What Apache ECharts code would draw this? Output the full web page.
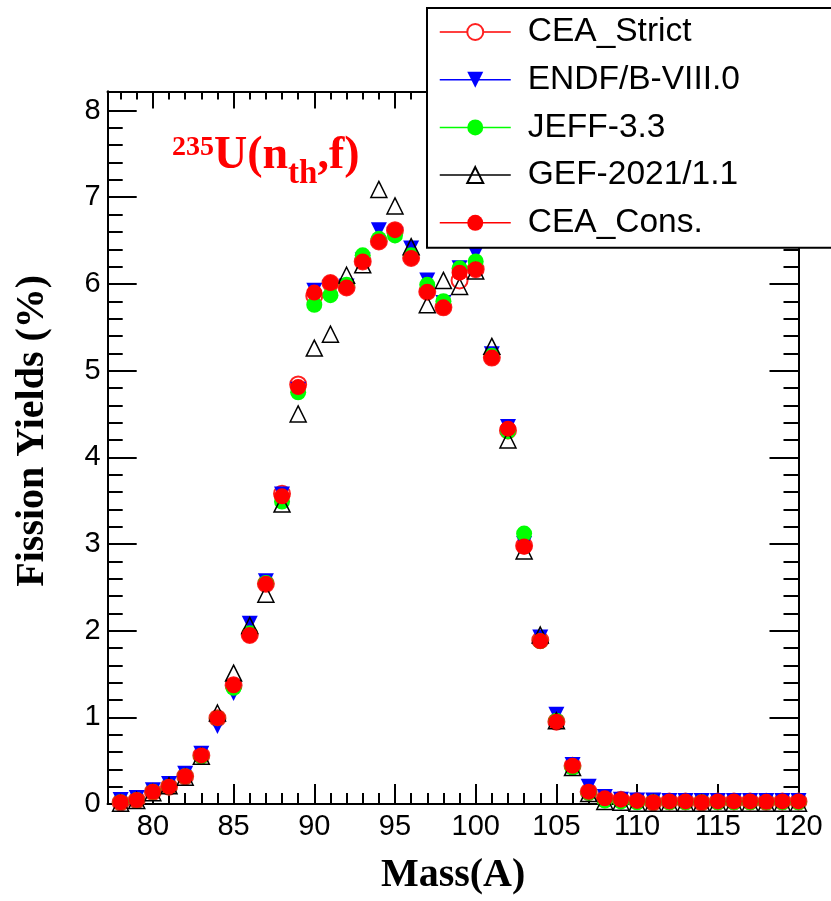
<!DOCTYPE html>
<html><head><meta charset="utf-8">
<script src="https://cdn.jsdelivr.net/npm/echarts@6/dist/echarts.min.js"></script>
<style>html,body{margin:0;padding:0;background:#fff}#c{width:831px;height:901px}</style>
</head><body><div id="c"></div>
<script>
// Mass numbers (A)
const masses = [78,79,80,81,82,83,84,85,86,87,88,89,90,91,92,93,94,95,96,97,98,99,100,101,102,103,104,105,106,107,108,109,110,111,112,113,114,115,116,117,118,119,120];
// Fission yields (%)
const ceaStrict = [0.02,0.046,0.14,0.20,0.32,0.56,0.99,1.37,1.95,2.54,3.58,4.84,5.86,6.01,5.96,6.26,6.49,6.62,6.30,5.91,5.73,6.04,6.17,5.15,4.31,2.98,1.89,0.95,0.44,0.14,0.065,0.05,0.035,0.02,0.03,0.03,0.02,0.03,0.03,0.03,0.025,0.03,0.03];
const endf = [0.045,0.07,0.16,0.23,0.35,0.58,0.90,1.28,2.08,2.57,3.57,4.78,5.92,5.95,5.97,6.27,6.62,6.56,6.41,6.04,5.78,6.18,6.35,5.19,4.35,3.00,1.92,1.03,0.45,0.20,0.08,0.05,0.04,0.04,0.035,0.035,0.035,0.035,0.035,0.035,0.035,0.035,0.035];
const jeff = [0.02,0.045,0.14,0.20,0.32,0.55,0.99,1.34,1.97,2.55,3.49,4.75,5.76,5.87,5.99,6.33,6.52,6.56,6.33,5.99,5.80,6.18,6.26,5.17,4.30,3.12,1.88,0.96,0.42,0.13,0.04,0.03,0.02,0.02,0.02,0.02,0.02,0.02,0.02,0.02,0.02,0.02,0.02];
const gef = [0.01,0.04,0.13,0.21,0.31,0.55,1.05,1.51,2.06,2.42,3.46,4.50,5.26,5.42,6.10,6.22,7.09,6.90,6.43,5.76,6.04,5.97,6.15,5.28,4.20,2.92,1.95,0.96,0.42,0.12,0.03,0.02,0.01,0.01,0.01,0.01,0.01,0.01,0.01,0.01,0.01,0.01,0.01];
const ceaCons = [0.02,0.046,0.14,0.20,0.32,0.56,0.99,1.37,1.95,2.54,3.55,4.81,5.90,6.01,5.96,6.26,6.49,6.62,6.30,5.91,5.73,6.13,6.17,5.15,4.33,2.97,1.88,0.95,0.44,0.14,0.065,0.05,0.035,0.02,0.03,0.03,0.02,0.03,0.03,0.03,0.025,0.03,0.03];
// Tick values
const xMajorTicks = [80,85,90,95,100,105,110,115,120];
const xMinorTicks = [78,79,81,82,83,84,86,87,88,89,91,92,93,94,96,97,98,99,101,102,103,104,106,107,108,109,111,112,113,114,116,117,118,119];
const yMajorTicks = [0,1,2,3,4,5,6,7,8];
const yMinorTicks = [0.2,0.4,0.6,0.8,1.2,1.4,1.6,1.8,2.2,2.4,2.6,2.8,3.2,3.4,3.6,3.8,4.2,4.4,4.6,4.8,5.2,5.4,5.6,5.8,6.2,6.4,6.6,6.8,7.2,7.4,7.6,7.8];

const X_MIN = 77.2, X_MAX = 120, Y_MIN = 0, Y_MAX = 8.22;
const black = '#000';
function pairs(arr){ return masses.map((m,i)=>[m, arr[i]]); }

function xAx(pos, ticks, len, labels, extra){
  return Object.assign({
    type:'value', position:pos, min:X_MIN, max:X_MAX,
    axisLine:{show:true, onZero:false, lineStyle:{color:black, width:2}},
    axisTick:{show:true, inside:true, length:len, customValues:ticks, lineStyle:{color:black, width:2}},
    axisLabel: labels ? {show:true, customValues:ticks, fontSize:29, color:black, fontFamily:'Liberation Sans', margin:8} : {show:false},
    splitLine:{show:false}
  }, extra||{});
}
function yAx(pos, ticks, len, labels, extra){
  return Object.assign({
    type:'value', position:pos, min:Y_MIN, max:Y_MAX,
    axisLine:{show:true, onZero:false, lineStyle:{color:black, width:2}},
    axisTick:{show:true, inside:true, length:len, customValues:ticks, lineStyle:{color:black, width:2}},
    axisLabel: labels ? {show:true, customValues:ticks, fontSize:29, color:black, fontFamily:'Liberation Sans', margin:7} : {show:false},
    splitLine:{show:false}
  }, extra||{});
}

const chart = echarts.init(document.getElementById('c'), null, {renderer:'canvas'});
const common = {type:'line', symbolSize:16, showAllSymbol:true, animation:false, xAxisIndex:0, yAxisIndex:0};
chart.setOption({
  animation:false,
  backgroundColor:'#fff',
  grid:{left:107.7, right:32.5, top:91.5, bottom:91, containLabel:false},
  title:{
    text:'{sup|235}{main|U(n}{sub|th}{main|,f)}',
    left:172, top:121, padding:0,
    textStyle:{
      fontSize:46, color:'#ff0000', fontFamily:'Liberation Serif', fontWeight:'bold',
      rich:{
        main:{fontSize:46, fontFamily:'Liberation Serif', fontWeight:'bold', color:'#ff0000', lineHeight:70, verticalAlign:'middle'},
        sup:{fontSize:28, fontFamily:'Liberation Serif', fontWeight:'bold', color:'#ff0000', lineHeight:28, verticalAlign:'top', padding:[12.5,0,0,0]},
        sub:{fontSize:33, fontFamily:'Liberation Serif', fontWeight:'bold', color:'#ff0000', lineHeight:33, verticalAlign:'bottom'}
      }
    }
  },
  legend:{
    orient:'vertical', left:427, top:8, z:10,
    padding:[7,500,8,12],
    backgroundColor:'#fff', borderColor:black, borderWidth:2, borderRadius:0,
    itemWidth:71, itemHeight:20, itemGap:13.7,
    selectedMode:false,
    lineStyle:{opacity:1, width:1.5},
    textStyle:{fontSize:33.5, fontFamily:'Liberation Sans', color:black, lineHeight:34, padding:[0,0,0,12]},
    data:['CEA_Strict','ENDF/B-VIII.0','JEFF-3.3','GEF-2021/1.1','CEA_Cons.']
  },
  xAxis:[
    xAx('bottom', xMajorTicks, 20, true, {name:'Mass(A)', nameLocation:'middle', nameGap:52,
      nameTextStyle:{fontFamily:'Liberation Serif', fontWeight:'bold', fontSize:40, color:black, lineHeight:40}}),
    xAx('bottom', xMinorTicks, 11, false),
    xAx('top', xMajorTicks, 17, false),
    xAx('top', xMinorTicks, 8, false)
  ],
  yAxis:[
    yAx('left', yMajorTicks, 29, true, {name:'Fission Yields (%)', nameLocation:'middle', nameRotate:90, nameGap:55,
      nameTextStyle:{fontFamily:'Liberation Serif', fontWeight:'bold', fontSize:40, color:black, padding:[0,0,0,34]}}),
    yAx('left', yMinorTicks, 15, false),
    yAx('right', yMajorTicks, 29, false),
    yAx('right', yMinorTicks, 15, false)
  ],
  series:[
    Object.assign({}, common, {name:'CEA_Strict', data:pairs(ceaStrict), symbol:'emptyCircle',
      itemStyle:{color:'#ff2020', borderWidth:1.2}, lineStyle:{color:'#ff0000', opacity:0}}),
    Object.assign({}, common, {name:'ENDF/B-VIII.0', data:pairs(endf), symbol:'triangle', symbolRotate:180,
      itemStyle:{color:'#0000ff'}, lineStyle:{color:'#0000ff', opacity:0}}),
    Object.assign({}, common, {name:'JEFF-3.3', data:pairs(jeff), symbol:'circle',
      itemStyle:{color:'#00ff00'}, lineStyle:{color:'#00ff00', opacity:0}}),
    Object.assign({}, common, {name:'GEF-2021/1.1', data:pairs(gef), symbol:'triangle',
      itemStyle:{color:'rgba(0,0,0,0)', borderColor:black, borderWidth:1.5}, lineStyle:{color:black, opacity:0}}),
    Object.assign({}, common, {name:'CEA_Cons.', data:pairs(ceaCons), symbol:'circle',
      itemStyle:{color:'#ff0000'}, lineStyle:{color:'#ff0000', opacity:0}})
  ]
});
</script>
</body></html>
